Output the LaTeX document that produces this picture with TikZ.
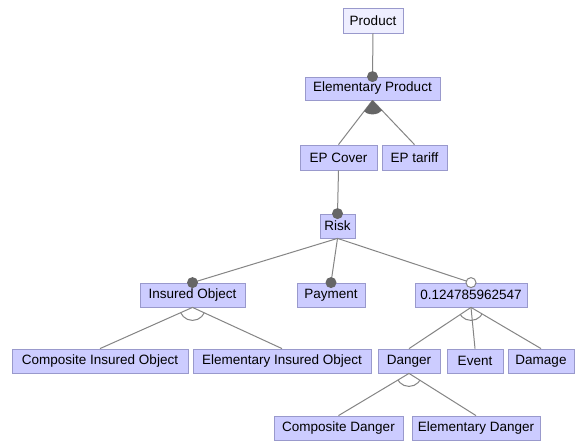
\documentclass[tikz,border=0pt]{standalone}
\usepackage{fontspec}
\setmainfont{Liberation Sans}
\definecolor{boxfill}{HTML}{CCCCFF}
\definecolor{boxline}{HTML}{9999CC}
\definecolor{topfill}{HTML}{EEEEFF}
\definecolor{edgecol}{HTML}{858585}
\definecolor{dotcol}{HTML}{666666}
\begin{document}
\begin{tikzpicture}[x=1pt,y=-1pt,
  feat/.style={draw=boxline, fill=boxfill, line width=0.8pt, minimum height=24pt, inner sep=0pt, font=\fontsize{13.5}{15}\selectfont},
  rootfeat/.style={feat, fill=topfill},
  conn/.style={draw=edgecol, line width=1pt},
  mand/.style={fill=dotcol},
  opt/.style={draw=edgecol, fill=white, line width=1pt},
  grp/.style={draw=edgecol, line width=1pt}]
\useasboundingbox[fill=white] (0,0) rectangle (575,443);
\node[rootfeat, minimum width=60pt, minimum height=25pt] (prod) at (373,20.5) {Product};
\node[feat, minimum width=135pt, minimum height=23pt] (ep) at (372.5,88.5) {Elementary Product};
\node[feat, minimum width=77pt, minimum height=25pt] (epc) at (338.5,157.5) {EP Cover};
\node[feat, minimum width=65pt, minimum height=25pt] (ept) at (414.5,157.5) {EP tariff};
\node[feat, minimum width=35pt] (risk) at (337.5,226) {Risk};
\node[feat, minimum width=105pt] (io) at (192.5,295) {Insured Object};
\node[feat, minimum width=68pt] (pay) at (331,295) {Payment};
\node[feat, minimum width=112pt] (num) at (471,295) {0.124785962547};
\node[feat, minimum width=176pt] (cio) at (100,361) {Composite Insured Object};
\node[feat, minimum width=178pt] (eio) at (282,361) {Elementary Insured Object};
\node[feat, minimum width=62pt] (dan) at (409,361) {Danger};
\node[feat, minimum width=56pt] (evt) at (475,361) {Event};
\node[feat, minimum width=66pt] (dam) at (541,361) {Damage};
\node[feat, minimum width=129pt] (cd) at (338.5,428) {Composite Danger};
\node[feat, minimum width=128pt] (ed) at (476,428) {Elementary Danger};
% connectors
\draw[conn] (prod.south) -- (ep.north);
\draw[conn] (ep.south) -- (epc.north);
\draw[conn] (ep.south) -- (ept.north);
\draw[conn] (epc.south) -- (risk.north);
\draw[conn] (risk.south) -- (io.north);
\draw[conn] (risk.south) -- (pay.north);
\draw[conn] (risk.south) -- (num.north);
\draw[conn] (io.south) -- (cio.north);
\draw[conn] (io.south) -- (eio.north);
\draw[conn] (num.south) -- (dan.north);
\draw[conn] (num.south) -- (evt.north);
\draw[conn] (num.south) -- (dam.north);
\draw[conn] (dan.south) -- (cd.north);
\draw[conn] (dan.south) -- (ed.north);
% group arcs
\begin{scope}
  \clip (ep.south) -- (epc.north) -- (ept.north) -- cycle;
  \fill[dotcol] (ep.south) circle (14pt);
\end{scope}
\begin{scope}
  \clip (io.south) -- (cio.north) -- (eio.north) -- cycle;
  \draw[grp] (io.south) circle (13pt);
\end{scope}
\begin{scope}
  \clip (num.south) -- (dan.north) -- (dam.north) -- cycle;
  \draw[grp] (num.south) circle (13pt);
\end{scope}
\begin{scope}
  \clip (dan.south) -- (cd.north) -- (ed.north) -- cycle;
  \draw[grp] (dan.south) circle (13pt);
\end{scope}
% markers
\fill[mand] (ep.north) circle (5.5pt);
\fill[mand] (risk.north) circle (5.5pt);
\fill[mand] (io.north) circle (5.5pt);
\fill[mand] (pay.north) circle (5.5pt);
\draw[opt] (num.north) circle (5pt);
\end{tikzpicture}
\end{document}
